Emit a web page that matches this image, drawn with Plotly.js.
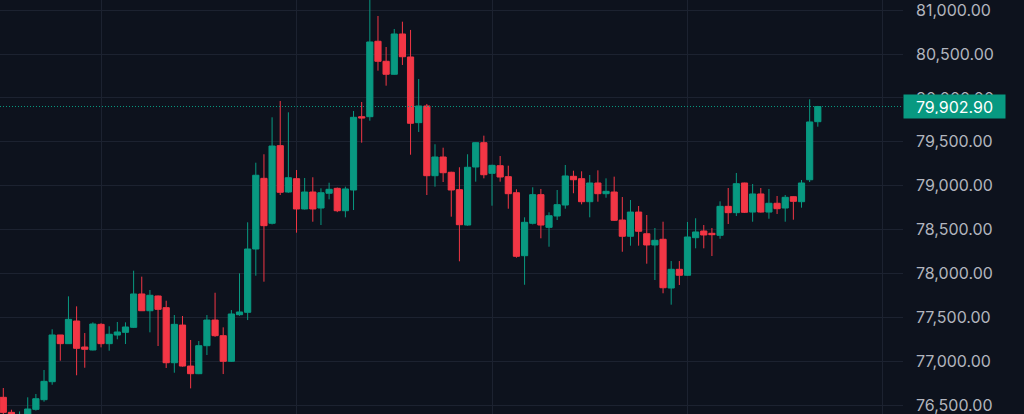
<!DOCTYPE html>
<html>
<head>
<meta charset="utf-8">
<script src="https://cdn.plot.ly/plotly-3.0.1.min.js"></script>
<style>
html,body{margin:0;padding:0;background:#0d121d;}
#chart{width:1024px;height:414px;}
</style>
</head>
<body>
<div id="chart"></div>
<script>
const openP  = [76591,76420,76300,76350,76454,76564,76769,77301,77202,77460,77164,77130,77422,77202,77300,77331,77388,77768,77577,77745,77612,76985,77414,76947,76860,77179,77471,77293,77001,77532,77559,78280,79085,78573,79457,78929,79081,78736,78929,78747,78915,78971,78716,78952,79787,79787,80646,80418,80270,80729,80467,79719,79909,79115,79328,79154,78956,78553,79214,79491,79142,79229,79104,78921,78204,78573,78899,78527,78656,78781,79108,79081,78819,79032,78910,78929,78610,78425,78701,78454,78326,78391,77836,78049,77981,78409,78485,78459,78436,78766,78694,79032,78701,78907,78701,78801,78747,78876,78819,79069,79730];
const highP  = [76697,76450,76430,76591,76629,76902,77366,77301,77741,77627,77323,77445,77435,77400,77449,77445,78033,77965,77813,77750,77691,77528,77517,77244,77232,77528,77782,77388,77585,78003,78584,79263,79359,79780,79966,79837,79180,79089,79097,78971,79035,78980,78990,79852,79954,81130,80934,80581,80786,80869,80775,80216,79932,79473,79434,79160,79211,79359,79495,79571,79240,79339,79229,78960,78641,78983,78964,78698,78952,79237,79172,79165,79123,79176,79085,79104,78872,78838,78770,78667,78519,78591,78143,78143,78588,78630,78553,78519,78823,78975,79146,79035,79020,78975,78964,78884,78895,78880,79066,79985,79910];
const lowP   = [76350,76250,76220,76320,76440,76541,76734,77008,77202,76842,76928,77125,77160,77122,77252,77198,77380,77577,77331,77175,76925,76871,76940,76693,76855,77073,77280,76856,76995,77520,77471,77976,77908,78560,78895,78920,78466,78730,78591,78553,78846,78700,78641,78724,79491,79741,80311,80140,80265,80376,79354,79613,78895,78990,79043,78648,78140,78545,79047,79085,78773,79047,78739,78181,77873,78560,78402,78306,78610,78739,78915,78789,78641,78819,78864,78600,78249,78318,78318,78113,77927,77776,77646,77870,77975,78288,78288,78200,78397,78565,78656,78690,78591,78695,78625,78679,78591,78614,78751,79043,79673];
const closeP = [76420,76300,76350,76458,76575,76773,77301,77202,77479,77149,77138,77426,77202,77309,77335,77392,77768,77577,77753,77593,76985,77422,76947,76860,77179,77471,77293,77001,77540,77563,78280,79120,78546,79453,78926,79092,78736,78929,78736,78921,78960,78716,78964,79780,79772,80638,80418,80270,80729,80470,79712,79909,79115,79328,79149,78952,78557,79211,79491,79126,79233,79100,78910,78197,78584,78899,78553,78659,78785,79112,79069,78819,79032,78910,78937,78607,78425,78701,78482,78326,78379,77839,78049,77981,78417,78474,78440,78443,78766,78694,79024,78698,78907,78701,78801,78739,78869,78823,79032,79727,79902.9];
const barIndex = openP.map((_, i) => i);
const priceTicks = [76500,77000,77500,78000,78500,79000,79500,80000,80500,81000];
const timeGridAt = [12,36,60,84,108];
const lastPrice = 79902.90;
const lastPriceLabel = "79,902.90";

const UP = "#089981", DOWN = "#f23645";

const trace = {
  type: "candlestick",
  x: barIndex,
  open: openP, high: highP, low: lowP, close: closeP,
  increasing: {line: {color: UP, width: 1}, fillcolor: UP},
  decreasing: {line: {color: DOWN, width: 1}, fillcolor: DOWN},
  whiskerwidth: 0,
  hoverinfo: "skip",
  showlegend: false
};

const layout = {
  width: 1024, height: 414,
  margin: {l: 0, r: 121, t: 0, b: 0, pad: 0},
  paper_bgcolor: "#0d121d",
  plot_bgcolor: "#0d121d",
  boxgap: 0.24, boxgroupgap: 0,
  showlegend: false,
  xaxis: {
    type: "linear",
    range: [-0.405, 110.46],
    rangeslider: {visible: false},
    tickvals: timeGridAt,
    showticklabels: false,
    ticks: "",
    showgrid: true,
    gridcolor: "#1c2230",
    gridwidth: 1,
    zeroline: false,
    showline: false,
    fixedrange: true
  },
  yaxis: {
    side: "right",
    range: [76401, 81116],
    tickvals: priceTicks,
    tickformat: ",.2f",
    ticks: "",
    ticklabelstandoff: 12,
    ticklabeloverflow: "allow",
    tickfont: {family: "Inter, Roboto, sans-serif", size: 16, color: "#b2b5be"},
    showgrid: true,
    gridcolor: "#1c2230",
    gridwidth: 1,
    zeroline: false,
    showline: false,
    fixedrange: true
  },
  shapes: [{
    type: "line", xref: "paper", yref: "y",
    x0: 0, x1: 1, y0: lastPrice, y1: lastPrice,
    line: {color: UP, width: 1, dash: "1px,2px"}
  }],
  annotations: [{
    xref: "paper", yref: "y", x: 1, y: lastPrice,
    xanchor: "left", yanchor: "middle",
    text: lastPriceLabel, showarrow: false,
    font: {family: "Inter, Roboto, sans-serif", size: 16, color: "#ffffff"},
    bgcolor: UP, borderpad: 4,
    width: 93, height: 15, align: "center"
  }]
};

Plotly.newPlot("chart", [trace], layout, {displayModeBar: false, staticPlot: true});
</script>
</body>
</html>
